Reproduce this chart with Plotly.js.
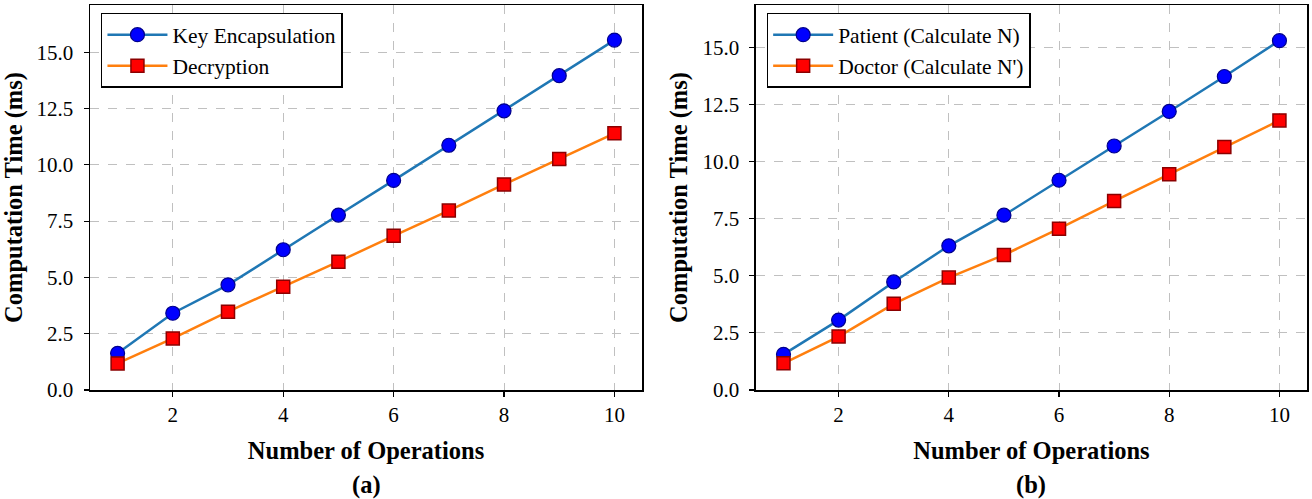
<!DOCTYPE html>
<html>
<head>
<meta charset="utf-8">
<script src="https://cdn.plot.ly/plotly-3.0.1.min.js"></script>
<style>html,body{margin:0;padding:0;background:#fff;}#chart{width:1312px;height:499px;}</style>
</head>
<body>
<div id="chart"></div>
<script>
const operations = [1, 2, 3, 4, 5, 6, 7, 8, 9, 10];
const keyEncapsulation = [1.63, 3.41, 4.67, 6.23, 7.77, 9.31, 10.87, 12.40, 13.96, 15.54];
const decryption = [1.18, 2.29, 3.48, 4.59, 5.70, 6.85, 7.97, 9.13, 10.26, 11.40];
const patientN = [1.56, 3.06, 4.73, 6.31, 7.65, 9.18, 10.68, 12.19, 13.72, 15.29];
const doctorN = [1.17, 2.34, 3.77, 4.92, 5.91, 7.06, 8.27, 9.44, 10.64, 11.80];
const seriesNames = ['Key Encapsulation', 'Decryption', 'Patient (Calculate N)', "Doctor (Calculate N')"];
const panelLabels = ['(a)', '(b)'];

const blueLine = {color: '#1f77b4', width: 2.5};
const orangeLine = {color: '#ff7f0e', width: 2.5};
const circle = {symbol: 'circle', size: 14, color: '#0000ff', line: {color: '#00008b', width: 1.2}};
const square = {symbol: 'square', size: 13, color: '#ff0000', line: {color: '#8b0000', width: 1.5}};

const traces = [
  {x: operations, y: keyEncapsulation, name: seriesNames[0], mode: 'lines+markers', line: blueLine, marker: circle, xaxis: 'x', yaxis: 'y', legend: 'legend'},
  {x: operations, y: decryption, name: seriesNames[1], mode: 'lines+markers', line: orangeLine, marker: square, xaxis: 'x', yaxis: 'y', legend: 'legend'},
  {x: operations, y: patientN, name: seriesNames[2], mode: 'lines+markers', line: blueLine, marker: circle, xaxis: 'x2', yaxis: 'y2', legend: 'legend2'},
  {x: operations, y: doctorN, name: seriesNames[3], mode: 'lines+markers', line: orangeLine, marker: square, xaxis: 'x2', yaxis: 'y2', legend: 'legend2'}
];

const font = {family: '"Liberation Serif", "Times New Roman", serif', color: '#000'};
const titleFont = {family: font.family, size: 24.5, color: '#000', weight: 'bold'};

function xAxis(domain, anchor) {
  return {
    domain: domain, anchor: anchor, range: [0.5, 10.5], tick0: 0, dtick: 2,
    showline: true, mirror: true, linecolor: '#000', linewidth: 1.5,
    ticks: 'outside', ticklen: 5, tickwidth: 1.2, tickcolor: '#000',
    showgrid: true, gridcolor: '#c0c0c0', griddash: 'dash', gridwidth: 1,
    zeroline: false, tickfont: {family: font.family, size: 21, color: '#000'},
    title: {text: '<b>Number of Operations</b>', font: titleFont, standoff: 16}
  };
}
function yAxis(range, anchor) {
  return {
    anchor: anchor, range: range, tick0: 0, dtick: 2.5, tickformat: '.1f',
    showline: true, mirror: true, linecolor: '#000', linewidth: 1.5,
    ticks: 'outside', ticklen: 5, tickwidth: 1.2, tickcolor: '#000', ticklabelstandoff: 6,
    showgrid: true, gridcolor: '#c0c0c0', griddash: 'dash', gridwidth: 1,
    zeroline: false, tickfont: {family: font.family, size: 21, color: '#000'},
    title: {text: '<b>Computation Time (ms)</b>', font: titleFont, standoff: 8}
  };
}

const legendBase = {
  bgcolor: '#fff', bordercolor: '#000', borderwidth: 1.5,
  font: {family: font.family, size: 21.5, color: '#000'},
  xanchor: 'left', yanchor: 'top', tracegroupgap: 0, itemwidth: 60
};

const layout = {
  width: 1312, height: 499,
  margin: {l: 90, r: 5, t: 5, b: 109},
  paper_bgcolor: '#fff', plot_bgcolor: '#fff',
  font: font,
  showlegend: true,
  xaxis: xAxis([0, 0.4536], 'y'),
  yaxis: yAxis([0, 17.1], 'x'),
  xaxis2: xAxis([0.5472, 1], 'y2'),
  yaxis2: yAxis([0, 16.85], 'x2'),
  legend: Object.assign({}, legendBase, {x: 0.009, y: 0.98}),
  legend2: Object.assign({}, legendBase, {x: 0.556, y: 0.98}),
  annotations: [
    {text: '<b>' + panelLabels[0] + '</b>', xref: 'x domain', yref: 'paper', x: 0.5, y: -0.246, yanchor: 'middle', showarrow: false, font: {family: font.family, size: 24.5, color: '#000'}},
    {text: '<b>' + panelLabels[1] + '</b>', xref: 'x2 domain', yref: 'paper', x: 0.5, y: -0.246, yanchor: 'middle', showarrow: false, font: {family: font.family, size: 24.5, color: '#000'}}
  ]
};

Plotly.newPlot('chart', traces, layout, {displayModeBar: false, staticPlot: true});
</script>
</body>
</html>
